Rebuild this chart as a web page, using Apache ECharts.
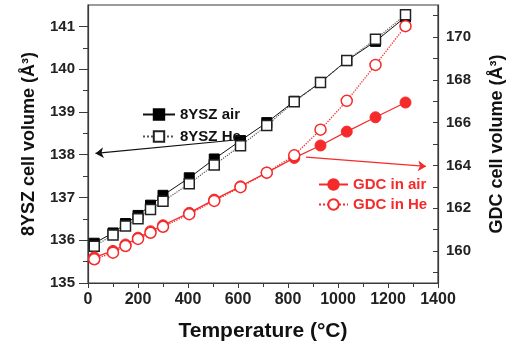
<!DOCTYPE html>
<html>
<head>
<meta charset="utf-8">
<script src="https://cdn.jsdelivr.net/npm/echarts@6/dist/echarts.min.js"></script>
<style>html,body{margin:0;padding:0;background:#fff}#c{width:514px;height:347px}</style>
</head>
<body>
<div id="c"></div>
<script>
// Temperatures (°C)
const temps = [25, 100, 150, 200, 250, 300, 405, 505, 610, 715, 825, 930, 1035, 1150, 1270];
// 8YSZ cell volume (Å³), left axis
const yszAir = [135.93, 136.17, 136.39, 136.58, 136.82, 137.05, 137.46, 137.90, 138.33, 138.75, 139.25, 139.69, 140.20, 140.65, 141.22];
const yszHe  = [135.86, 136.12, 136.33, 136.50, 136.72, 136.91, 137.32, 137.76, 138.21, 138.68, 139.24, 139.69, 140.20, 140.70, 141.27];
// GDC cell volume (Å³), right axis
const gdcAir = [159.70, 160.00, 160.30, 160.62, 160.92, 161.20, 161.78, 162.40, 163.02, 163.66, 164.35, 164.93, 165.58, 166.25, 166.94];
const gdcHe  = [159.61, 159.92, 160.23, 160.56, 160.85, 161.13, 161.72, 162.34, 162.98, 163.66, 164.47, 165.67, 167.02, 168.70, 170.51];
// tick labels
const xTicks = [0, 200, 400, 600, 800, 1000, 1200, 1400];
const leftTicks = [135, 136, 137, 138, 139, 140, 141];
const leftMinor = [135.5, 136.5, 137.5, 138.5, 139.5, 140.5];
const rightTicks = [160, 162, 164, 166, 168, 170];
const rightAllTicks = [159, 160, 161, 162, 163, 164, 165, 166, 167, 168, 169, 170, 171];
// annotation arrows (data coordinates)
const blackArrow = [[600, 138.35], [30, 138.03]];
const redArrow = [[872, 164.39], [1352, 163.95]];

const FONT = "'Liberation Sans', Arial, sans-serif";
const RED = '#f52a2a';
const AX = '#3a3a3a';
const pairs = (ys) => temps.map((t, i) => [t, ys[i]]);
const plain = (v) => String(v);

const chart = echarts.init(document.getElementById('c'), null, {renderer: 'canvas'});
chart.setOption({
  animation: false,
  textStyle: {fontFamily: FONT},
  grid: {left: 88, right: 72, top: 5, bottom: 64, show: true, borderColor: AX, borderWidth: 1.2, backgroundColor: 'transparent'},
  legend: [
    {
      data: ['8YSZ air', '8YSZ He'], orient: 'vertical', left: 142, top: 107,
      itemWidth: 32, itemHeight: 13, itemGap: 7, padding: 0, textStyle: {fontSize: 15, fontWeight: 'bold', color: '#111', fontFamily: FONT}
    },
    {
      data: ['GDC in air', 'GDC in He'], orient: 'vertical', left: 318, top: 177,
      itemWidth: 29, itemHeight: 13, itemGap: 5, padding: 0, textStyle: {fontSize: 15, fontWeight: 'bold', color: RED, fontFamily: FONT}
    }
  ],
  xAxis: {
    type: 'value', min: 0, max: 1400, interval: 200,
    name: 'Temperature (°C)', nameLocation: 'middle', nameGap: 38,
    nameTextStyle: {fontSize: 21, fontWeight: 'bold', color: '#111', fontFamily: FONT},
    axisLine: {show: true, lineStyle: {color: AX, width: 1.2}},
    axisTick: {show: true, inside: false, length: 5, lineStyle: {color: AX}},
    minorTick: {show: true, splitNumber: 2, length: 4, lineStyle: {color: AX}},
    axisLabel: {fontSize: 16, fontWeight: 'bold', color: '#222', margin: 9, fontFamily: FONT,
      customValues: xTicks, formatter: plain},
    splitLine: {show: false}
  },
  yAxis: [
    {
      type: 'value', min: 135, max: 141.5, position: 'left',
      name: '8YSZ cell volume (Å³)', nameLocation: 'middle', nameGap: 50, nameRotate: 90,
      nameTextStyle: {fontSize: 18, fontWeight: 'bold', color: '#111', fontFamily: FONT},
      axisLine: {show: true, lineStyle: {color: AX, width: 1.2}},
      axisTick: {show: true, inside: false, length: 9, customValues: leftTicks, lineStyle: {color: AX}},
      axisLabel: {fontSize: 15, fontWeight: 'bold', color: '#222', margin: 13, customValues: leftTicks, fontFamily: FONT, formatter: plain},
      splitLine: {show: false}
    },
    {
      type: 'value', min: 158.5, max: 171.5, position: 'right',
      name: 'GDC cell volume (Å³)', nameLocation: 'middle', nameGap: 50, nameRotate: 90,
      nameTextStyle: {fontSize: 18, fontWeight: 'bold', color: '#111', fontFamily: FONT},
      axisLine: {show: true, lineStyle: {color: AX, width: 1.2}},
      axisTick: {show: true, inside: true, length: 5, customValues: rightAllTicks, lineStyle: {color: AX}},
      axisLabel: {fontSize: 15, fontWeight: 'bold', color: '#222', margin: 8, customValues: rightTicks, fontFamily: FONT, formatter: plain},
      splitLine: {show: false}
    },
    {
      type: 'value', min: 135, max: 141.5, position: 'left',
      axisLine: {show: false},
      axisTick: {show: true, inside: false, length: 5, customValues: leftMinor, lineStyle: {color: AX}},
      axisLabel: {show: false},
      splitLine: {show: false}
    }
  ],
  series: [
    {
      name: '8YSZ air', type: 'line', yAxisIndex: 0, data: pairs(yszAir),
      symbol: 'rect', symbolSize: 10,
      lineStyle: {color: '#111', width: 1},
      itemStyle: {color: '#000', borderColor: '#000', borderWidth: 1},
      emphasis: {disabled: true},
      markLine: {
        silent: true, animation: false, symbol: ['none', 'arrow'], symbolSize: 8,
        label: {show: false},
        lineStyle: {color: '#111', width: 1.2, type: 'solid'},
        data: [[{coord: blackArrow[0]}, {coord: blackArrow[1]}]]
      }
    },
    {
      name: '8YSZ He', type: 'line', yAxisIndex: 0, data: pairs(yszHe),
      symbol: 'rect', symbolSize: 10,
      lineStyle: {color: '#555', width: 1.2, type: 'dotted'},
      itemStyle: {color: '#fff', borderColor: '#222', borderWidth: 1.5},
      emphasis: {disabled: true}
    },
    {
      name: 'GDC in air', type: 'line', yAxisIndex: 1, data: pairs(gdcAir),
      symbol: 'circle', symbolSize: 11,
      lineStyle: {color: RED, width: 1.2},
      itemStyle: {color: RED, borderColor: RED, borderWidth: 1},
      emphasis: {disabled: true},
      markLine: {
        silent: true, animation: false, symbol: ['none', 'arrow'], symbolSize: 8,
        label: {show: false},
        lineStyle: {color: RED, width: 1.2, type: 'solid'},
        data: [[{coord: redArrow[0]}, {coord: redArrow[1]}]]
      }
    },
    {
      name: 'GDC in He', type: 'line', yAxisIndex: 1, data: pairs(gdcHe),
      symbol: 'circle', symbolSize: 11,
      lineStyle: {color: RED, width: 1.3, type: 'dotted'},
      itemStyle: {color: '#fff', borderColor: RED, borderWidth: 1.5},
      emphasis: {disabled: true}
    }
  ]
});
</script>
</body>
</html>
